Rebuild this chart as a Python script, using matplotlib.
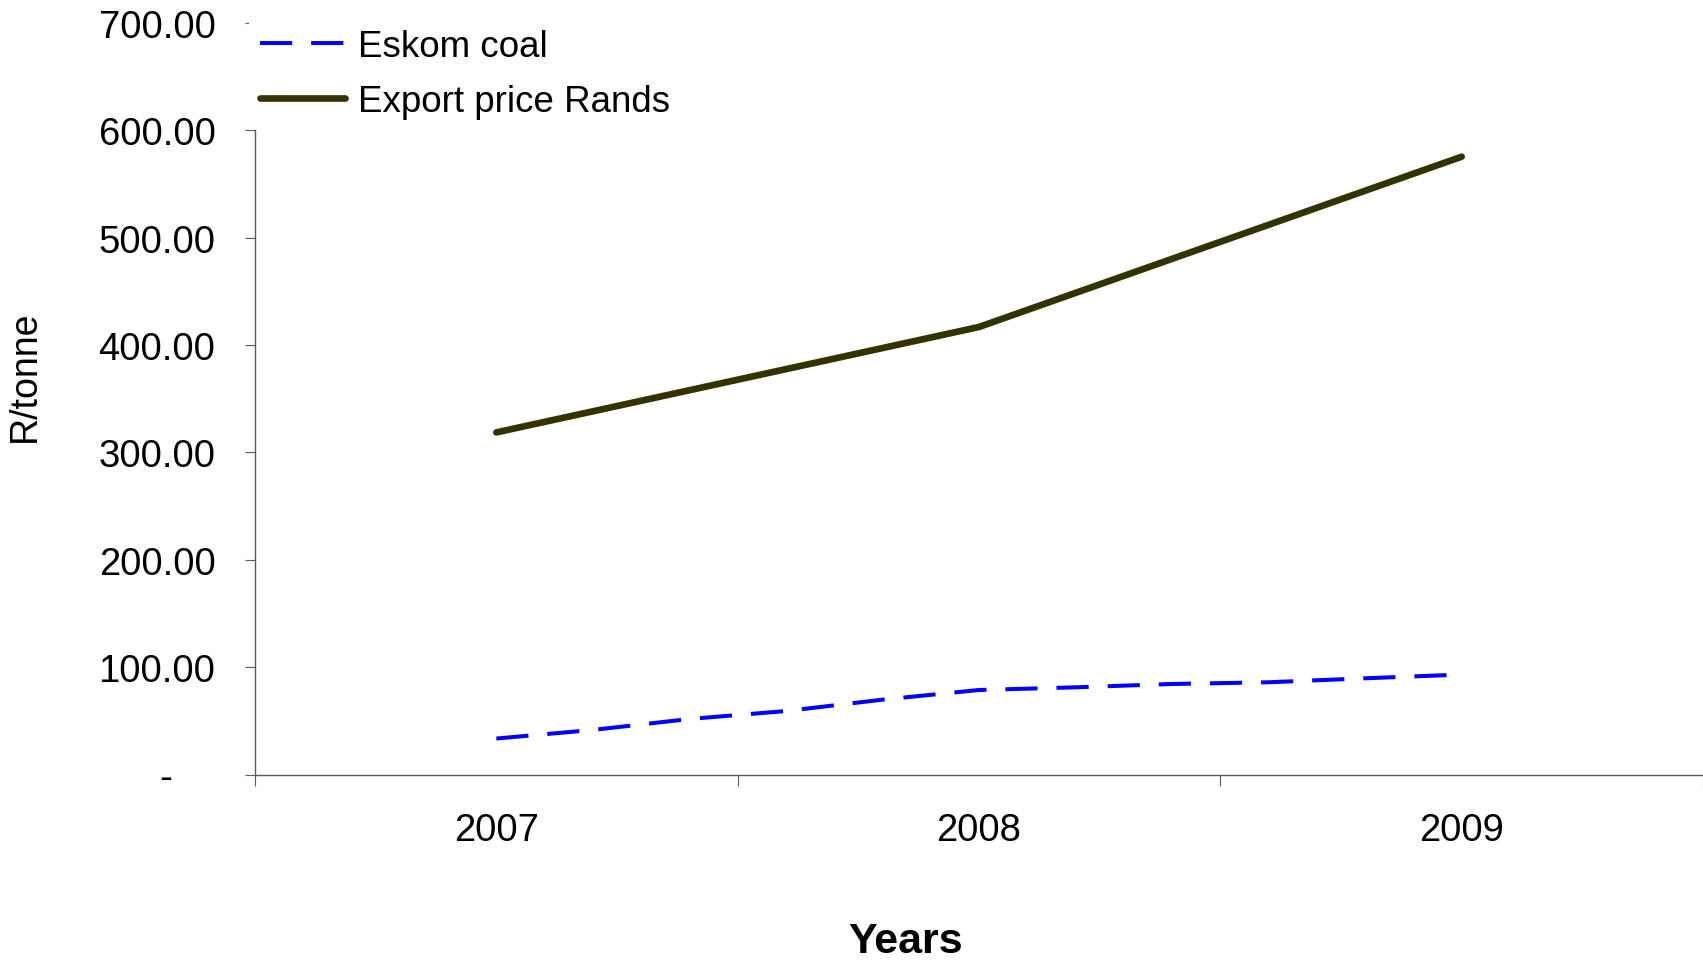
import numpy as np
import matplotlib
matplotlib.use("Agg")
import matplotlib.pyplot as plt
from matplotlib.ticker import FixedLocator, FuncFormatter

plt.rcParams['font.family'] = ['Liberation Sans', 'DejaVu Sans']

# category labels and series (R/tonne)
years = ["2007", "2008", "2009"]
export_price = [318.6, 416.8, 575.4]

# Eskom coal cost is sampled more finely between the year points
eskom_pos = [0.0, 0.2, 0.4, 0.6, 0.8, 1.0, 1.2, 1.4, 1.6, 1.8, 2.0]
eskom_cost = [33.5, 41.5, 51.7, 59.1, 69.7, 78.7, 81.2, 84.3, 85.9, 89.6, 93.1]

y_ticks = [0, 100, 200, 300, 400, 500, 600, 700]

axis_grey = "#595959"

fig = plt.figure(figsize=(17.03, 9.62), dpi=100)
ax = fig.add_axes([255 / 1703, 1 - 775.5 / 962, 1 - 255 / 1703, (775.5 - 23.9) / 962])

ax.plot(eskom_pos, eskom_cost, color="#0000FF", lw=2.9,
        dashes=(8, 4.7), label="Eskom coal", zorder=3)
ax.plot(range(len(years)), export_price, color="#333300", lw=4.8,
        solid_capstyle="round", solid_joinstyle="round",
        label="Export price Rands", zorder=3)

ax.set_xlim(-0.5, 2.5)
ax.set_ylim(0, 700)

for side in ("top", "right"):
    ax.spines[side].set_visible(False)
for side in ("left", "bottom"):
    ax.spines[side].set_color(axis_grey)
    ax.spines[side].set_linewidth(1.0)

# y axis: accounting-style labels, zero shown as a dash
def fmt_y(v, pos):
    if v == 0:
        return "-    "
    return f"{v:.2f}"

ax.yaxis.set_major_locator(FixedLocator(y_ticks))
ax.yaxis.set_major_formatter(FuncFormatter(fmt_y))
ax.tick_params(axis="y", direction="out", length=7.5, width=0.8,
               color=axis_grey, labelsize=27.5, pad=21)

# x axis: labels at category centres, tick marks on the boundaries
ax.set_xticks(range(len(years)))
ax.set_xticklabels(years)
ax.set_xticks([-0.5, 0.5, 1.5, 2.5], minor=True)
ax.tick_params(axis="x", which="major", length=0, labelsize=27.5, pad=27)
ax.tick_params(axis="x", which="minor", direction="out", length=8,
               width=0.8, color=axis_grey)

ax.set_xlabel("Years", fontsize=31, fontweight="bold")
ax.xaxis.set_label_coords(0.4496, -0.195)
ax.set_ylabel("R/tonne", fontsize=27)
ax.yaxis.set_label_coords(-0.1464, 0.5315)

leg = ax.legend(loc="upper left", bbox_to_anchor=(249 / 1703, 1 - 19 / 962),
                bbox_transform=fig.transFigure, borderaxespad=0,
                fontsize=26.5, frameon=True, fancybox=False,
                facecolor="white", edgecolor="none", framealpha=1,
                handlelength=2.3, handletextpad=0.35, labelspacing=0.53,
                borderpad=0.3)
leg.set_zorder(5)

fig.savefig("out.png", dpi=100)
